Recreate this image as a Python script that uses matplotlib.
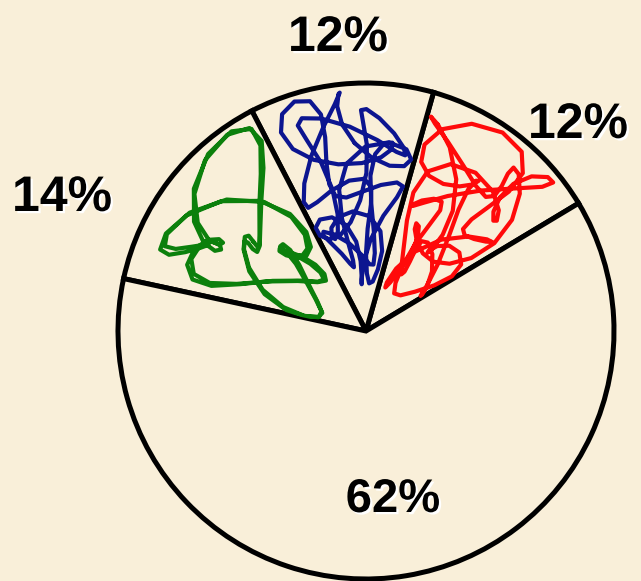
import numpy as np
import matplotlib
matplotlib.use("Agg")
import matplotlib.pyplot as plt
import matplotlib.patheffects as pe

# ---- data ----
categories = ["Red", "Blue", "Green", "Other"]
values = [12, 12, 14, 62]
labels = ["12%", "12%", "14%", "62%"]
colors = ["#FF0A0A", "#0C1590", "#0C800C", None]

# ---- layout ----
W, H = 641, 581
BG = "#F9EFD9"
fig = plt.figure(figsize=(W / 100, H / 100), dpi=100)
fig.patch.set_facecolor(BG)
ax = fig.add_axes([0, 0, 1, 1])
ax.set_facecolor(BG)

cx, cy, R = 366, 250, 248
startangle = 31

wedges, _ = ax.pie(values, startangle=startangle, counterclock=True,
                   center=(cx, cy), radius=R, colors=[BG] * 4,
                   wedgeprops=dict(edgecolor="black", linewidth=3.6))
ax.set_xlim(0, W)
ax.set_ylim(0, H)
ax.set_aspect("equal")
ax.axis("off")

# scribble texture inside coloured wedges (decorative)
phases = [0.7, 1.9, 3.1]
for w, col, ph in zip(wedges, colors, phases + [0]):
    if col is None:
        continue
    th1, th2 = np.deg2rad(w.theta1), np.deg2rad(w.theta2)
    t = np.linspace(0, 2 * np.pi, 120)
    u = 0.5 + 0.34 * np.sin(3 * t + ph) + 0.16 * np.sin(11 * t + 2 * ph)
    v = 0.5 + 0.34 * np.sin(5 * t + 2 * ph) + 0.16 * np.sin(13 * t + ph)
    r = R * (0.18 + 0.80 * u)
    th = th1 + (th2 - th1) * (0.02 + 0.96 * v)
    line, = ax.plot(cx + r * np.cos(th), cy + r * np.sin(th), color=col,
                    lw=3.0, solid_joinstyle="round", solid_capstyle="round")
    line.set_clip_path(w)

# labels
label_pos = [(578, 456), (338, 543), (62, 383), (393, 81)]
label_size = [36, 36, 36, 34]
for lab, (x, y), fs in zip(labels, label_pos, label_size):
    ax.text(x, y, lab, ha="center", va="center", fontsize=fs,
            fontweight="bold", family=["Liberation Sans", "DejaVu Sans"],
            color="black",
            path_effects=[pe.withSimplePatchShadow(offset=(1.6, -1.6),
                                                   shadow_rgbFace="white",
                                                   alpha=1.0)])

fig.savefig("out.png", dpi=100, facecolor=fig.get_facecolor())
